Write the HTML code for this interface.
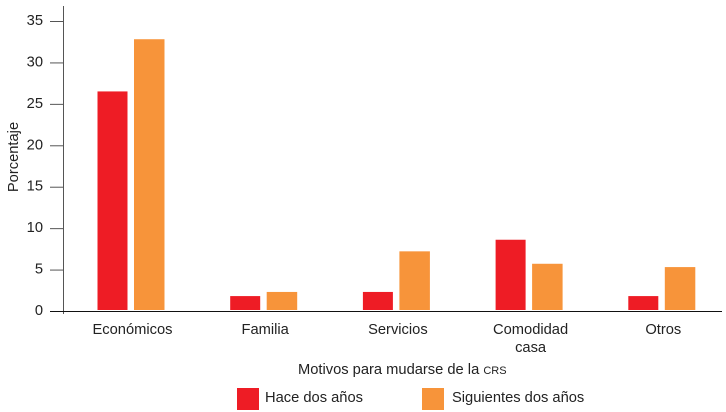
<!DOCTYPE html>
<html lang="es">
<head>
<meta charset="utf-8">
<title>Motivos para mudarse de la CRS</title>
<style>
html,body{margin:0;padding:0;background:#fff;}
svg{display:block;}
text{font-family:"Liberation Sans",sans-serif;fill:#222;font-size:14.7px;}
</style>
</head>
<body>
<svg id="chart" width="726" height="412" viewBox="0 0 726 412" xmlns="http://www.w3.org/2000/svg">
<g id="bars"></g>
<g id="axes"></g>
<text x="18" y="157" text-anchor="middle" transform="rotate(-90 18 157)">Porcentaje</text>
<text x="298" y="374">Motivos para mudarse de la <tspan font-size="11">CRS</tspan></text>
<rect x="237" y="388" width="22" height="22" fill="#ee1c25"/>
<text x="265" y="402">Hace dos años</text>
<rect x="422" y="388" width="22" height="22" fill="#f7943a"/>
<text x="452" y="402">Siguientes dos años</text>
</svg>
<script>
const categories = [["Económicos"], ["Familia"], ["Servicios"], ["Comodidad", "casa"], ["Otros"]];
const haceDosAnos = [26.5, 1.8, 2.3, 8.6, 1.8];
const siguientesDosAnos = [32.8, 2.3, 7.2, 5.7, 5.3];
const yTicks = [0, 5, 10, 15, 20, 25, 30, 35];

const NS = "http://www.w3.org/2000/svg";
const barsGroup = document.getElementById("bars");
const axesGroup = document.getElementById("axes");
function y(v) { return 311 - v * 290 / 35; }
function xCenter(i) { return 131 + i * 132.7; }
function make(tag, attrs, parent) {
  const el = document.createElementNS(NS, tag);
  for (const k in attrs) el.setAttribute(k, attrs[k]);
  parent.appendChild(el);
  return el;
}
categories.forEach(function (lines, i) {
  const redBar = make("rect", {x: xCenter(i) - 33.5, y: y(haceDosAnos[i]), width: 30, height: 310 - y(haceDosAnos[i]), fill: "#ee1c25"}, barsGroup);
  
  
  const orangeBar = make("rect", {x: xCenter(i) + 3, y: y(siguientesDosAnos[i]), width: 30.5, height: 310 - y(siguientesDosAnos[i]), fill: "#f7943a"}, barsGroup);
  
  
  lines.forEach(function (line, j) {
    const label = make("text", {x: xCenter(i) + 1.5, y: 334 + j * 18, "text-anchor": "middle"}, axesGroup);
    label.textContent = line;
    
    
  });
});
const yAxis = make("line", {x1: 63.5, x2: 63.5, y1: 6, y2: 314, stroke: "#555", "stroke-width": 1}, axesGroup);


yTicks.forEach(function (t) {
  const tick = make("line", {x1: 50, x2: 63, y1: y(t) + 0.5, y2: y(t) + 0.5, stroke: "#555", "stroke-width": 1}, axesGroup);
  
  
  const label = make("text", {x: 43, y: y(t) + 4, "text-anchor": "end"}, axesGroup);
  label.textContent = t;
  
  
});
const xAxis = make("line", {x1: 50, x2: 722, y1: 311.5, y2: 311.5, stroke: "#111", "stroke-width": 1}, axesGroup);


</script>
</body>
</html>
